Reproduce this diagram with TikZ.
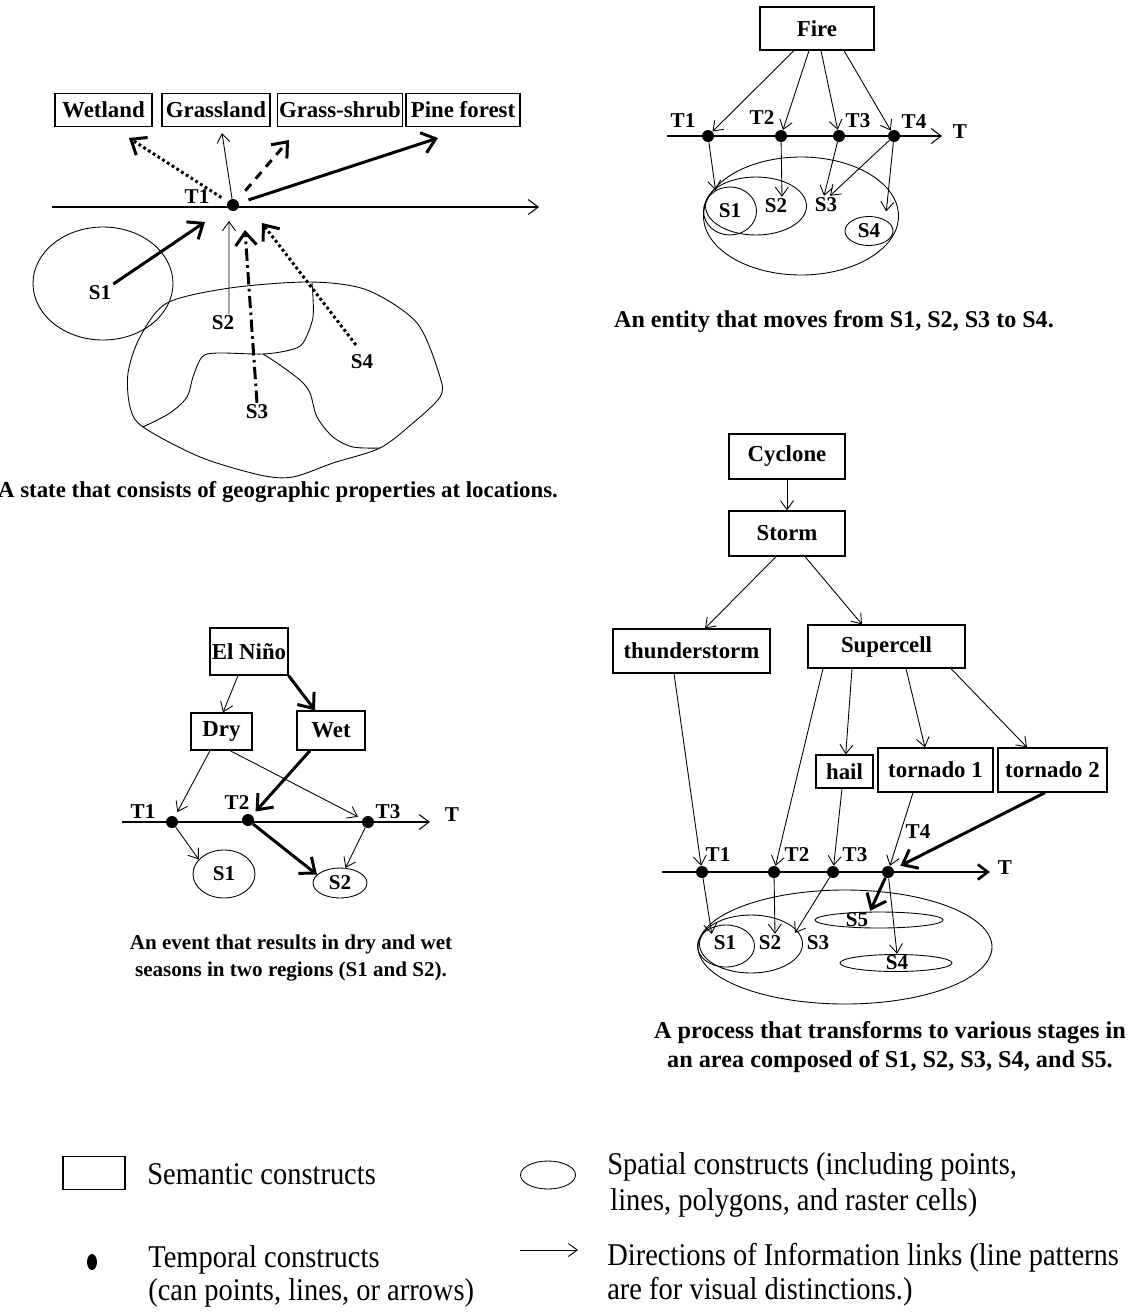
\documentclass[tikz,border=0pt]{standalone}
\usepackage{fontspec}
\setmainfont{Liberation Serif}
\newfontfamily\legendfont[FakeStretch=0.9]{Liberation Serif}
\usetikzlibrary{arrows.meta,shapes.geometric,positioning}
\newcommand{\dgfont}{\fontsize{13}{15}\selectfont\bfseries}
\newcommand{\lbfont}{\fontsize{12}{14}\selectfont\bfseries}
\tikzset{
  sem/.style={draw, line width=0.7pt, inner sep=1pt, font=\dgfont},
  lbl/.style={inner sep=1pt, font=\lbfont},
  tdot/.style={circle, fill=black, inner sep=0pt, minimum size=2.4mm},
  spat/.style={draw, ellipse, line width=0.5pt, inner sep=0pt, font=\lbfont},
  link/.style={line width=0.5pt, -{Straight Barb[length=1.8mm,width=2.6mm]}},
  heavy/.style={line width=1.7pt, -{Straight Barb[length=2.6mm,width=4.2mm]}},
  taxis/.style={line width=0.6pt, -{Straight Barb[length=2mm,width=3mm]}},
  captext/.style={align=center},
  leg/.style={font=\legendfont\fontsize{18}{21}\selectfont, anchor=west, inner sep=0pt},
}
\begin{document}
\begin{tikzpicture}[x=0.2mm, y=-0.2mm]
\useasboundingbox (0,0) rectangle (1135,1312);

% state
\node[sem, minimum width=19.4mm, minimum height=6.6mm] (wetland) at (103.5,110) {Wetland};
\node[sem, minimum width=21.6mm, minimum height=6.6mm] (grass) at (216,110) {Grassland};
\node[sem, minimum width=24.8mm, minimum height=6.6mm] (shrub) at (340,110) {Grass-shrub};
\node[sem, minimum width=22.8mm, minimum height=6.6mm] (pine) at (463,110) {Pine forest};
\coordinate (ax1a) at (52,207);
\coordinate (ax1b) at (539,207);
\draw[taxis] (ax1a) -- (ax1b); %time
\node[tdot] (st) at (233,205) {};
\node[lbl] (stlab) at (197,197) {T1};
\coordinate (wetTip) at (129,138);
\coordinate (grassTip) at (222,133);
\coordinate (shrubTip) at (289,140);
\coordinate (pineTip) at (438,138);
\draw[heavy, dash pattern=on 1.6pt off 1.6pt, shorten <=1.5mm] (st) -- (wetTip);
\draw[link] (st) -- (grassTip);
\draw[heavy, dash pattern=on 5pt off 4pt, shorten <=2.5mm] (st) -- (shrubTip);
\draw[heavy, shorten <=2mm] (st) -- (pineTip);
\node[spat, minimum width=28mm, minimum height=22.6mm] (reg1) at (103,283.5) {};
\draw[line width=0.5pt] plot[smooth cycle, tension=0.5] coordinates {(140,337) (167,303) (230,288) (310,282) (367,290) (417,323) (440,377) (440,397) (413,423) (380,448) (333,463) (293,477) (260,475) (200,457) (143,427) (130,407) (128,373)};
\draw[line width=0.5pt] plot[smooth, tension=0.5] coordinates {(312,283) (313,317) (303,343) (290,350) (263,354) (217,353) (202,357) (193,377) (187,397) (170,413) (143,427)};
\draw[line width=0.5pt] plot[smooth, tension=0.5] coordinates {(263,354) (277,363) (300,380) (310,393) (317,417) (333,437) (353,447) (380,448)};
\node[lbl] (s1lab) at (100,293) {S1};
\node[lbl] (s2lab) at (223,323) {S2};
\node[lbl] (s3lab) at (257,412) {S3};
\node[lbl] (s4lab) at (362,362) {S4};
\coordinate (s1tip) at (205,222);
\coordinate (s2tip) at (229,221);
\coordinate (s3tip) at (245,230);
\coordinate (s4tip) at (262,223);
\draw[heavy] (s1lab) -- (s1tip);
\draw[link] ([xshift=1.2mm]s2lab.north) -- (s2tip);
\draw[heavy, dash pattern=on 7pt off 2.5pt on 1.5pt off 2.5pt] (s3lab.north) -- (s3tip);
\draw[heavy, dash pattern=on 1.6pt off 1.6pt, shorten <=2mm] (s4lab.north) -- (s4tip);
\node[captext, font={\fontsize{13}{15}\selectfont\bfseries}] (cap1) at (278,492) {A state that consists of geographic properties at locations.};

% entity
\node[sem, minimum width=22.8mm, minimum height=8.6mm] (fire) at (817,28.5) {Fire};
\coordinate (ax2a) at (667,136);
\coordinate (ax2b) at (942,136);
\draw[taxis] (ax2a) -- (ax2b); %time
\node[lbl] (ax2lab) at (960,132) {T};
\node[tdot] (f1) at (708,136) {};
\node[tdot] (f2) at (781,136) {};
\node[tdot] (f3) at (839,136) {};
\node[tdot] (f4) at (894,136) {};
\node[lbl] (f1lab) at (683,121) {T1};
\node[lbl] (f2lab) at (762,118) {T2};
\node[lbl] (f3lab) at (858,121) {T3};
\node[lbl] (f4lab) at (914,122) {T4};
\draw[link] ([xshift=-4.6mm]fire.south) -- (f1);
\draw[link] ([xshift=-1.6mm]fire.south) -- (f2);
\draw[link] ([xshift=0.8mm]fire.south) -- (f3);
\draw[link] ([xshift=5.4mm]fire.south) -- (f4);
\node[spat, minimum width=39mm, minimum height=23.6mm] (fall) at (801,216) {};
\node[spat, minimum width=20.2mm, minimum height=11.6mm] (f12) at (756,206) {};
\node[spat, minimum width=10.6mm, minimum height=9.6mm] (fs1) at (730,211) {S1};
\node[lbl] (fs2) at (776,206) {S2};
\node[lbl] (fs3) at (826,205) {S3};
\node[spat, minimum width=9.6mm, minimum height=5.8mm] (fs4) at (869,231) {S4};
\draw[link] (f1) -- (fs1.125);
\draw[link] (f2) -- ([xshift=1.2mm]fs2.north);
\draw[link] (f3) -- ([xshift=-0.4mm]fs3.north);
\draw[link] (f4) -- ([xshift=0.8mm]fs3.north);
\draw[link] (f4) -- ([yshift=1.8mm]fs4.north east);
\node[captext, font={\fontsize{13.7}{16}\selectfont\bfseries}] (cap2) at (834,322) {An entity that moves from S1, S2, S3 to S4.};

% event
\node[sem, minimum width=15.6mm, minimum height=9.4mm] (elnino) at (249,651.5) {El Niño};
\node[sem, minimum width=12.2mm, minimum height=7.4mm] (dry) at (221.5,731.5) {Dry};
\node[sem, minimum width=13.6mm, minimum height=7.8mm] (wet) at (331,730.5) {Wet};
\coordinate (ax3a) at (122,822);
\coordinate (ax3b) at (430,822);
\draw[taxis] (ax3a) -- (ax3b); %time
\node[lbl] (ax3lab) at (452,815) {T};
\node[tdot] (n1) at (172,822) {};
\node[tdot] (n2) at (248,820) {};
\node[tdot] (n3) at (368,822) {};
\node[lbl] (n1lab) at (143,812) {T1};
\node[lbl] (n2lab) at (237,803) {T2};
\node[lbl] (n3lab) at (388,812) {T3};
\node[spat, minimum width=12.4mm, minimum height=9.6mm] (es1) at (224,874) {S1};
\node[spat, minimum width=10.8mm, minimum height=6mm] (es2) at (340,883) {S2};
\draw[link] ([xshift=-2.2mm]elnino.south) -- ([xshift=0.3mm]dry.north);
\draw[heavy] (elnino.south east) -- ([xshift=-3.2mm]wet.north);
\draw[link, shorten >=1mm] ([xshift=-2.3mm]dry.south) -- (n1);
\draw[link, shorten >=1mm] ([xshift=1.7mm]dry.south) -- (n3);
\draw[heavy, shorten >=1mm] ([xshift=-4.2mm]wet.south) -- (n2);
\draw[link] (n1) -- (es1.150);
\draw[heavy] (n2) -- (es2.160);
\draw[link] (n3) -- (es2.70);
\node[captext, font={\fontsize{12}{15.3}\selectfont\bfseries}] (cap3) at (291,958) {An event that results in dry and wet\\seasons in two regions (S1 and S2).};

% process
\node[sem, minimum width=23.2mm, minimum height=9mm] (cyclone) at (787,456.5) {Cyclone};
\node[sem, minimum width=23.2mm, minimum height=9mm] (storm) at (787,533.5) {Storm};
\node[sem, minimum width=31.4mm, minimum height=8.8mm] (thunder) at (691.5,651) {thunderstorm};
\node[sem, minimum width=31.4mm, minimum height=8.6mm] (supercell) at (886.5,646.5) {Supercell};
\node[sem, minimum width=11.4mm, minimum height=6.6mm] (hail) at (844.5,771.5) {hail};
\node[sem, minimum width=23mm, minimum height=8.8mm] (tor1) at (935.5,770) {tornado 1};
\node[sem, minimum width=21.8mm, minimum height=8.8mm] (tor2) at (1052.5,770) {tornado 2};
\draw[link] (cyclone) -- (storm);
\draw[link] ([xshift=-2.2mm]storm.south) -- ([xshift=2.7mm]thunder.north);
\draw[link] ([xshift=3.6mm]storm.south) -- ([xshift=-4.9mm]supercell.north);
\draw[link] ([xshift=-6.9mm]supercell.south) -- (hail);
\draw[link] ([xshift=3.9mm]supercell.south) -- ([xshift=-2.1mm]tor1.north);
\draw[link] ([xshift=12.9mm]supercell.south) -- ([xshift=-5.1mm]tor2.north);
\coordinate (ax4a) at (662,872);
\coordinate (ax4b) at (990,872);
\draw[taxis, line width=1.5pt] (ax4a) -- (ax4b); %time
\node[lbl] (ax4lab) at (1005,868) {T};
\node[tdot] (p1) at (702,872) {};
\node[tdot] (p2) at (774,872) {};
\node[tdot] (p3) at (833,872) {};
\node[tdot] (p4) at (888,872) {};
\node[lbl] (p1lab) at (718,855) {T1};
\node[lbl] (p2lab) at (797,855) {T2};
\node[lbl] (p3lab) at (855,855) {T3};
\node[lbl] (p4lab) at (918,832) {T4};
\draw[link] ([xshift=-3.5mm]thunder.south) -- (p1);
\draw[link] ([xshift=-12.7mm]supercell.south) -- (p2);
\draw[link] ([xshift=-0.5mm]hail.south) -- (p3);
\draw[link] ([xshift=-4.5mm]tor1.south) -- (p4);
\draw[heavy, shorten >=1.5mm] ([xshift=-1.5mm]tor2.south) -- (p4);
\node[spat, minimum width=58.8mm, minimum height=22.8mm] (pall) at (845,947) {};
\node[spat, minimum width=20.6mm, minimum height=11.6mm] (p12) at (751,944) {};
\node[spat, minimum width=11.4mm, minimum height=8.4mm] (ps1) at (726,946) {};
\node[spat, minimum width=25.6mm, minimum height=3.2mm] (ps5) at (879,920) {};
\node[spat, minimum width=22.4mm, minimum height=3.4mm] (ps4) at (896,963) {};
\node[lbl] (q1) at (725,943) {S1};
\node[lbl] (q2) at (770,943) {S2};
\node[lbl] (q3) at (818,943) {S3};
\node[lbl] (q5) at (857,920) {S5};
\node[lbl] (q4) at (897,963) {S4};
\coordinate (p3tip) at (795,933);
\draw[link] (p1) -- (q1.north west);
\draw[link] (p2) -- ([xshift=1mm]q2.north);
\draw[link] (p3) -- (p3tip);
\draw[link] (p4) -- (q4.north);
\draw[heavy] (p4) -- (q5.north east);
\node[captext, font={\fontsize{13.8}{16.4}\selectfont\bfseries}] (cap4) at (890,1047) {A process that transforms to various stages in\\an area composed of S1, S2, S3, S4, and S5.};

% legend
\node[draw, line width=0.6pt, minimum width=12.4mm, minimum height=6.6mm] (legsem) at (94,1173) {};
\node[leg] (legsemtxt) at (147,1174) {Semantic constructs};
\node[ellipse, fill=black, inner sep=0pt, minimum width=2mm, minimum height=3.2mm] (legdot) at (92,1262) {};
\node[leg] (legdottxt) at (148,1260) {Temporal constructs};
\node[leg] (legdottxt2) at (148,1293) {(can points, lines, or arrows)};
\node[draw, ellipse, line width=0.5pt, minimum width=11mm, minimum height=5.6mm] (legsp) at (548,1175) {};
\node[leg] (legsptxt) at (607,1167) {Spatial constructs (including points,};
\node[leg] (legsptxt2) at (610,1203) {lines, polygons, and raster cells)};
\coordinate (legarra) at (520,1250);
\coordinate (legarrb) at (578,1250);
\draw[link] (legarra) -- (legarrb);
\node[leg] (legarrtxt) at (607,1258) {Directions of Information links (line patterns};
\node[leg] (legarrtxt2) at (607,1292) {are for visual distinctions.)};
\end{tikzpicture}
\end{document}
